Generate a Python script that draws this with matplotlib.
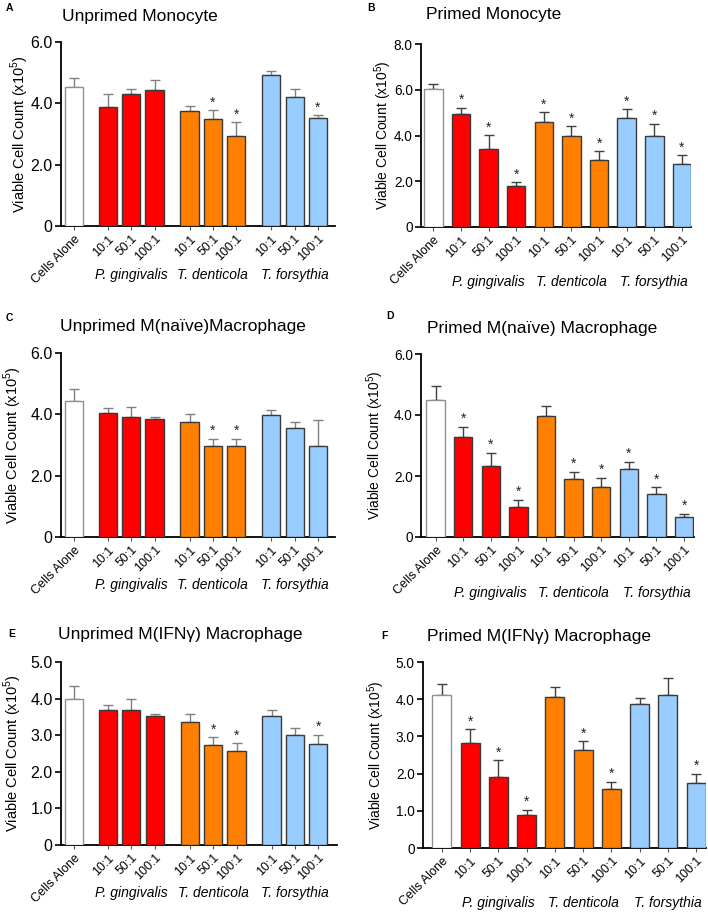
import numpy as np
import matplotlib
matplotlib.use('Agg')
import matplotlib.pyplot as plt

plt.rcParams['font.family'] = ['Liberation Sans', 'DejaVu Sans']
plt.rcParams['mathtext.fontset'] = 'custom'
plt.rcParams['mathtext.rm'] = 'Liberation Sans'

# Shared categories
tick_labels = ['Cells Alone', '10:1', '50:1', '100:1', '10:1', '50:1', '100:1',
               '10:1', '50:1', '100:1']
groups = ['P. gingivalis', 'T. denticola', 'T. forsythia']
bar_colors = ['white', '#ff0000', '#ff0000', '#ff0000', '#ff8000', '#ff8000', '#ff8000',
              '#99ccff', '#99ccff', '#99ccff']

# Panel values (x10^5 cells), upper error, significance
a_mean = [4.52, 3.89, 4.31, 4.44, 3.74, 3.49, 2.93, 4.91, 4.22, 3.51]
a_err = [0.32, 0.42, 0.16, 0.32, 0.17, 0.28, 0.46, 0.15, 0.24, 0.10]
a_sig = [0, 0, 0, 0, 0, 1, 1, 0, 0, 1]

b_mean = [6.02, 4.93, 3.43, 1.78, 4.57, 3.97, 2.92, 4.75, 3.97, 2.74]
b_err = [0.22, 0.29, 0.58, 0.17, 0.44, 0.43, 0.39, 0.39, 0.55, 0.40]
b_sig = [0, 1, 1, 1, 1, 1, 1, 1, 1, 1]

c_mean = [4.45, 4.04, 3.91, 3.85, 3.74, 2.98, 2.98, 3.98, 3.54, 2.97]
c_err = [0.39, 0.16, 0.33, 0.06, 0.26, 0.23, 0.23, 0.17, 0.21, 0.85]
c_sig = [0, 0, 0, 0, 0, 1, 1, 0, 0, 0]

d_mean = [4.50, 3.28, 2.33, 1.00, 3.97, 1.91, 1.63, 2.24, 1.40, 0.65]
d_err = [0.45, 0.33, 0.44, 0.22, 0.32, 0.23, 0.32, 0.23, 0.23, 0.11]
d_sig = [0, 1, 1, 1, 0, 1, 1, 1, 1, 1]

e_mean = [4.00, 3.70, 3.70, 3.53, 3.36, 2.74, 2.58, 3.53, 3.01, 2.75]
e_err = [0.35, 0.12, 0.29, 0.04, 0.22, 0.21, 0.20, 0.17, 0.19, 0.26]
e_sig = [0, 0, 0, 0, 0, 1, 1, 0, 0, 1]

f_mean = [4.10, 2.81, 1.90, 0.90, 4.06, 2.64, 1.59, 3.86, 4.10, 1.75]
f_err = [0.32, 0.38, 0.46, 0.13, 0.27, 0.23, 0.19, 0.16, 0.47, 0.25]
f_sig = [0, 1, 1, 1, 0, 1, 1, 0, 0, 1]

# x positions: left column has gaps between groups, right column does not
pos_gap = [0, 1.45, 2.45, 3.45, 4.95, 5.95, 6.95, 8.45, 9.45, 10.45]
pos_even = list(range(10))

W, H = 708, 916
fig = plt.figure(figsize=(W / 100, H / 100), dpi=100)


def add_ax(left, right, top, bottom):
    return fig.add_axes([left / W, 1 - bottom / H, (right - left) / W, (bottom - top) / H])


panels = [
    # letter, title, mean, err, sig, ymax, yticks, box, x positions, xlim, bar width,
    # err colour, title xy, letter xy, group y, ylabel x, tick font, label font
    ('A', 'Unprimed Monocyte', a_mean, a_err, a_sig, 6.0, [0, 2, 4, 6],
     (61, 335, 42, 226), pos_gap, (-0.56, 11.18), 0.78, '#808080', (62, 16), (6, 8), 275, 20,
     11.5, 10.5),
    ('B', 'Primed Monocyte', b_mean, b_err, b_sig, 8.0, [0, 2, 4, 6, 8],
     (421, 691, 44, 227), pos_even, (-0.45, 9.33), 0.67, '#404040', (426, 15), (367, 8), 282, 383,
     9.8, 10),
    ('C', 'Unprimed M(naïve)Macrophage', c_mean, c_err, c_sig, 6.0, [0, 2, 4, 6],
     (61, 335, 353, 537), pos_gap, (-0.56, 11.18), 0.78, '#808080', (60, 326), (6, 318), 585, 13,
     11.5, 10.5),
    ('D', 'Primed M(naïve) Macrophage', d_mean, d_err, d_sig, 6.0, [0, 2, 4, 6],
     (421, 694, 354, 537), pos_even, (-0.53, 9.36), 0.67, '#404040', (427, 329), (386, 316), 593, 375,
     9.8, 10),
    ('E', 'Unprimed M(IFNγ) Macrophage', e_mean, e_err, e_sig, 5.0, [0, 1, 2, 3, 4, 5],
     (61, 337, 662, 845), pos_gap, (-0.56, 11.25), 0.78, '#808080', (58, 635), (8, 634), 893, 13,
     11.5, 10.5),
    ('F', 'Primed M(IFNγ) Macrophage', f_mean, f_err, f_sig, 5.0, [0, 1, 2, 3, 4, 5],
     (423, 706, 662, 848), pos_even, (-0.67, 9.35), 0.67, '#404040', (427, 637), (381, 636), 903, 376,
     9.8, 10),
]

for (letter, title, mean, err, sig, ymax, yticks, box, xpos, xlim, bw, ecol,
     txy, lxy, gy, ylx, tfs, lfs) in panels:
    ax = add_ax(*box)
    edges = ['#909090'] + ['#3a3a3a'] * 9
    ax.bar(xpos, mean, width=bw, color=bar_colors, edgecolor=edges, linewidth=1.0, zorder=3)
    ax.errorbar(xpos, mean, yerr=[np.zeros(len(mean)), err], fmt='none', ecolor=ecol,
                elinewidth=1.0, capsize=3.5, capthick=1.0, zorder=2)
    for x, m, e, s in zip(xpos, mean, err, sig):
        if s:
            ax.annotate('*', (x, m + e), xytext=(0, 0.5), textcoords='offset points',
                        ha='center', va='bottom', fontsize=10, color='#222222')
    ax.set_xlim(*xlim)
    ax.set_ylim(0, ymax)
    ax.set_yticks(yticks)
    ax.set_yticklabels(['0'] + ['%.1f' % v for v in yticks[1:]], fontsize=tfs)
    ax.set_xticks(xpos)
    ax.set_xticklabels(tick_labels, rotation=45, ha='right', rotation_mode='anchor', fontsize=9)
    ax.tick_params(axis='x', length=3, width=0.8, color='#555555', pad=2)
    ax.tick_params(axis='y', length=4, width=1.2, pad=2)
    for sp in ['top', 'right']:
        ax.spines[sp].set_visible(False)
    for sp in ['left', 'bottom']:
        ax.spines[sp].set_linewidth(1.3)
    ax.set_ylabel('Viable Cell Count (x10$^{5}$)', fontsize=lfs, va='center')
    ax.yaxis.set_label_coords((ylx - box[0]) / (box[1] - box[0]), 0.5)
    # group names under each triplet
    for i, g in enumerate(groups):
        cx = np.mean(xpos[1 + 3 * i:4 + 3 * i])
        xd = ax.transData.transform((cx, 0))[0]
        fig.text(xd / W, 1 - gy / H, g, ha='center', va='center', fontsize=10,
                 style='italic')
    fig.text(txy[0] / W, 1 - txy[1] / H, title, ha='left', va='center', fontsize=12.5)
    fig.text(lxy[0] / W, 1 - lxy[1] / H, letter, ha='left', va='center', fontsize=7.5,
             fontweight='bold')

fig.savefig('out.png', dpi=100)
